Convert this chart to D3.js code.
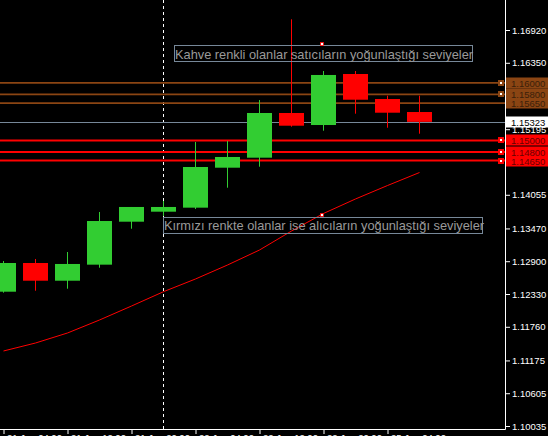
<!DOCTYPE html>
<html><head><meta charset="utf-8">
<script src="https://cdn.jsdelivr.net/npm/d3@7"></script>
<style>html,body{margin:0;padding:0;background:#000;overflow:hidden}</style>
</head><body>
<svg id="c" width="548" height="436"></svg>
<script>
// ---- data ----
const opens  = [1.12370, 1.12869, 1.12561, 1.12840, 1.13587, 1.13761, 1.13831, 1.14526, 1.14700, 1.15477, 1.15268, 1.16155, 1.15720, 1.15494];
const highs  = [1.12904, 1.12939, 1.13060, 1.13756, 1.13843, 1.13947, 1.14973, 1.14990, 1.15703, 1.17106, 1.16207, 1.16207, 1.15778, 1.15778];
const lows   = [1.12353, 1.12387, 1.12422, 1.12787, 1.13465, 1.13686, 1.13808, 1.14178, 1.14543, 1.15239, 1.15169, 1.15465, 1.15221, 1.15117];
const closes = [1.12869, 1.12561, 1.12852, 1.13599, 1.13843, 1.13843, 1.14538, 1.14712, 1.15477, 1.15256, 1.16138, 1.15708, 1.15482, 1.15323];
const maValues = [1.11339, 1.11478, 1.11652, 1.11878, 1.12121, 1.12370, 1.12591, 1.12834, 1.13095, 1.13425, 1.13730, 1.13982, 1.14216, 1.14442];
const priceTicks = [1.16920, 1.16350, 1.15780, 1.15195, 1.14625, 1.14055, 1.13470, 1.12900, 1.12330, 1.11760, 1.11175, 1.10605, 1.10035];
const timeTickIndex = [0, 2, 4, 6, 8, 10, 12];
const timeLabels = ["21 Jun 04:00", "21 Jun 12:00", "21 Jun 20:00", "22 Jun 04:00", "22 Jun 12:00", "22 Jun 20:00", "25 Jun 04:00"];
const sellerLevels = [1.15650, 1.15800, 1.16000];
const buyerLevels  = [1.14650, 1.14800, 1.15000];
const sellerMarked = [false, true, true];
const currentPrice = 1.15323;
const noteTexts = ["Kahve renkli olanlar satıcıların yoğunlaştığı seviyeler",
                   "Kırmızı renkte olanlar ise alıcıların yoğunlaştığı seviyeler"];

// ---- layout ----
const W = 548, H = 436, axisX = 505, axisY = 429;
const svg = d3.select("#c");
svg.append("rect").attr("width", W).attr("height", H).attr("fill", "#000");

const y = d3.scaleLinear().domain([1.10035, 1.16920]).range([426, 30]);
const x = d3.scaleLinear().domain([0, 13]).range([3.5, 419.5]);
const idx = d3.range(opens.length);
const GREEN = "#32cd32", RED = "#ff0000", BROWN = "#8b4513", SLATE = "#778899";
const font = "'Liberation Sans', Arial, sans-serif";

const plot = svg.append("g");
plot.append("clipPath").attr("id", "clip").append("rect").attr("width", axisX).attr("height", axisY);
const g = plot.append("g").attr("clip-path", "url(#clip)");

// period separator (dashed vertical)
g.append("line").attr("x1", x(5)).attr("x2", x(5)).attr("y1", 0).attr("y2", axisY)
  .attr("stroke", "#fff").attr("stroke-dasharray", "3,3").attr("stroke-width", 1);

// level lines
g.selectAll(".sl").data(sellerLevels).join("line")
  .attr("x1", 0).attr("x2", axisX).attr("y1", d => y(d)).attr("y2", d => y(d))
  .attr("stroke", BROWN).attr("stroke-width", 1.7);
g.selectAll(".bl").data(buyerLevels).join("line")
  .attr("x1", 0).attr("x2", axisX).attr("y1", d => y(d)).attr("y2", d => y(d))
  .attr("stroke", RED).attr("stroke-width", 2);
g.append("line").attr("x1", 0).attr("x2", axisX).attr("y1", Math.round(y(currentPrice)) + 0.5).attr("y2", Math.round(y(currentPrice)) + 0.5)
  .attr("stroke", SLATE).attr("stroke-width", 1);

// moving average
g.append("path").datum(idx)
  .attr("d", d3.line().x(i => x(i)).y(i => y(maValues[i])))
  .attr("fill", "none").attr("stroke", RED).attr("stroke-width", 1);

// candles
const c = g.selectAll(".candle").data(idx).join("g");
c.append("line")
  .attr("x1", i => x(i)).attr("x2", i => x(i))
  .attr("y1", i => y(highs[i])).attr("y2", i => y(lows[i]))
  .attr("stroke", i => closes[i] >= opens[i] ? GREEN : RED).attr("stroke-width", 1);
c.append("rect")
  .attr("x", i => x(i) - 12.5).attr("width", 25)
  .attr("y", i => y(Math.max(opens[i], closes[i])))
  .attr("height", i => Math.max(1, Math.abs(y(opens[i]) - y(closes[i]))))
  .attr("fill", i => closes[i] >= opens[i] ? GREEN : RED);

// notes
const notePos = [{x: 174.5, y: 45.5, w: 298, h: 16, tx: 175, ty: 58.5},
                 {x: 163.5, y: 217.5, w: 319, h: 16, tx: 164, ty: 229.5}];
noteTexts.forEach((t, k) => {
  const p = notePos[k];
  g.append("rect").attr("x", p.x).attr("y", p.y).attr("width", p.w).attr("height", p.h)
    .attr("fill", "none").attr("stroke", SLATE).attr("stroke-width", 1);
  g.append("text").attr("x", p.tx).attr("y", p.ty).text(t)
    .attr("font-family", font).attr("font-size", "12.8px").attr("fill", "#9a9a9a");
});
// note anchors
[[322, 44], [322, 215]].forEach(([ax, ay]) => {
  g.append("rect").attr("x", ax - 1.5).attr("y", ay - 1.5).attr("width", 3).attr("height", 3)
    .attr("fill", "#fff").attr("stroke", RED).attr("stroke-width", 0.8);
});

// level markers
const markers = sellerLevels.map((v, k) => ({v, col: BROWN, show: sellerMarked[k]}))
  .concat(buyerLevels.map(v => ({v, col: RED, show: true})));
markers.filter(m => m.show).forEach(m => {
  const yy = Math.round(y(m.v));
  svg.append("rect").attr("x", 498).attr("y", yy - 3).attr("width", 6).attr("height", 6).attr("fill", m.col);
  svg.append("rect").attr("x", 500).attr("y", yy - 1).attr("width", 2).attr("height", 2).attr("fill", "#fff");
});

// axes frame
svg.append("line").attr("x1", axisX + 0.5).attr("x2", axisX + 0.5).attr("y1", 0).attr("y2", axisY + 0.5)
  .attr("stroke", "#fff").attr("stroke-width", 1);
svg.append("line").attr("x1", 0).attr("x2", axisX + 0.5).attr("y1", axisY + 0.5).attr("y2", axisY + 0.5)
  .attr("stroke", "#fff").attr("stroke-width", 1);

// right axis
const ra = svg.append("g").attr("transform", `translate(${axisX + 1},0)`)
  .call(d3.axisRight(y).tickValues(priceTicks).tickSize(4).tickPadding(2).tickFormat(d3.format(".5f")));
ra.select(".domain").remove();
ra.selectAll("line").attr("stroke", "#fff");
ra.selectAll("text").attr("fill", "#fff").attr("font-family", font).attr("font-size", "9.5px");

// bottom axis
const ba = svg.append("g").attr("transform", `translate(0,${axisY + 1})`)
  .call(d3.axisBottom(x).tickValues(timeTickIndex).tickSize(4).tickFormat((d, k) => timeLabels[k]));
ba.select(".domain").remove();
ba.selectAll("line").attr("stroke", "#fff");
ba.selectAll("text").attr("fill", "#fff").attr("font-family", font).attr("font-size", "9.5px")
  .attr("text-anchor", "start").attr("dx", "3").attr("y", 3.7).attr("dy", "0.75em");

// price labels on axis
function label(v, fill, txt) {
  const yy = Math.round(y(v));
  svg.append("rect").attr("x", 506).attr("y", yy - 5.5).attr("width", 42).attr("height", 11).attr("fill", fill);
  svg.append("text").attr("x", 511).attr("y", yy + 3.5).text(d3.format(".5f")(v))
    .attr("font-family", font).attr("font-size", "9.5px").attr("fill", txt);
}
sellerLevels.forEach(v => label(v, BROWN, "#3a1f0a"));
buyerLevels.forEach(v => label(v, RED, "#6a0000"));
label(currentPrice, "#fff", "#000");
</script>
</body></html>
